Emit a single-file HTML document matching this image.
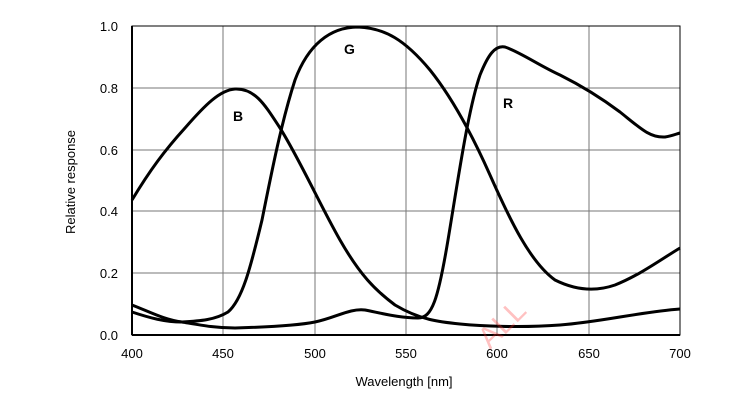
<!DOCTYPE html>
<html><head><style>body{margin:0;background:#fff}svg{display:block}</style></head><body>
<svg width="750" height="420" xmlns="http://www.w3.org/2000/svg" font-family="Liberation Sans, sans-serif">
<g stroke="#777" stroke-width="1">
<line x1="223" y1="26" x2="223" y2="335"/><line x1="315" y1="26" x2="315" y2="335"/><line x1="406" y1="26" x2="406" y2="335"/><line x1="497" y1="26" x2="497" y2="335"/><line x1="589" y1="26" x2="589" y2="335"/>
<line x1="132" y1="273" x2="680" y2="273"/><line x1="132" y1="211" x2="680" y2="211"/><line x1="132" y1="150" x2="680" y2="150"/><line x1="132" y1="88" x2="680" y2="88"/>
</g>
<rect x="132" y="26" width="548" height="309" fill="none" stroke="#000" stroke-width="1"/>
<line x1="132" y1="335" x2="680" y2="335" stroke="#000" stroke-width="2"/>
<line x1="132" y1="26" x2="132" y2="335" stroke="#000" stroke-width="2"/>
<g fill="none" stroke="#000" stroke-width="3" stroke-linejoin="round">
<path d="M132,200 C150,170 165,150 185,128 C205,105 220,90 235,89 C255,88 265,105 280,128 C300,160 320,205 340,240 C360,275 375,290 395,305 C420,320 440,322 460,324 C480,326 520,328 560,325 C600,322 640,312 680,309"/>
<path d="M132,312 C150,318 165,322 182,322 C200,321 215,320 228,312 C242,300 250,270 262,220 C272,170 282,120 295,80 C308,45 330,27 358,27 C385,28 405,40 430,70 C450,95 470,130 490,175 C510,220 530,262 555,280 C575,290 595,292 615,285 C640,275 660,260 680,248"/>
<path d="M132,305 C150,312 165,320 182,322 C200,325 215,328 235,328 C270,327 300,325 315,322 C335,318 350,308 365,310 C385,314 400,318 418,318 C432,318 438,300 448,240 C458,180 468,110 480,75 C488,55 495,45 505,47 C520,52 540,66 560,75 C580,85 600,97 620,112 C640,128 650,138 665,137 C672,136 676,134 680,133"/>
</g>
<g font-size="13" text-anchor="end" fill="#000">
<text x="118" y="340">0.0</text><text x="118" y="278">0.2</text><text x="118" y="216">0.4</text><text x="118" y="155">0.6</text><text x="118" y="93">0.8</text><text x="118" y="31">1.0</text>
</g>
<g font-size="13" text-anchor="middle" fill="#000">
<text x="132" y="358">400</text><text x="223" y="358">450</text><text x="315" y="358">500</text><text x="406" y="358">550</text><text x="497" y="358">600</text><text x="589" y="358">650</text><text x="680" y="358">700</text>
<text x="404" y="386">Wavelength [nm]</text>
<text transform="translate(75,182) rotate(-90)">Relative response</text>
</g>
<g font-size="14" font-weight="bold" fill="#000">
<text x="233" y="121">B</text><text x="344" y="54">G</text><text x="503" y="108">R</text>
</g>
<text x="490" y="350" font-size="30" fill="#f33" fill-opacity="0.3" transform="rotate(-45 490 350)">ALL</text>
</svg>
</body></html>
